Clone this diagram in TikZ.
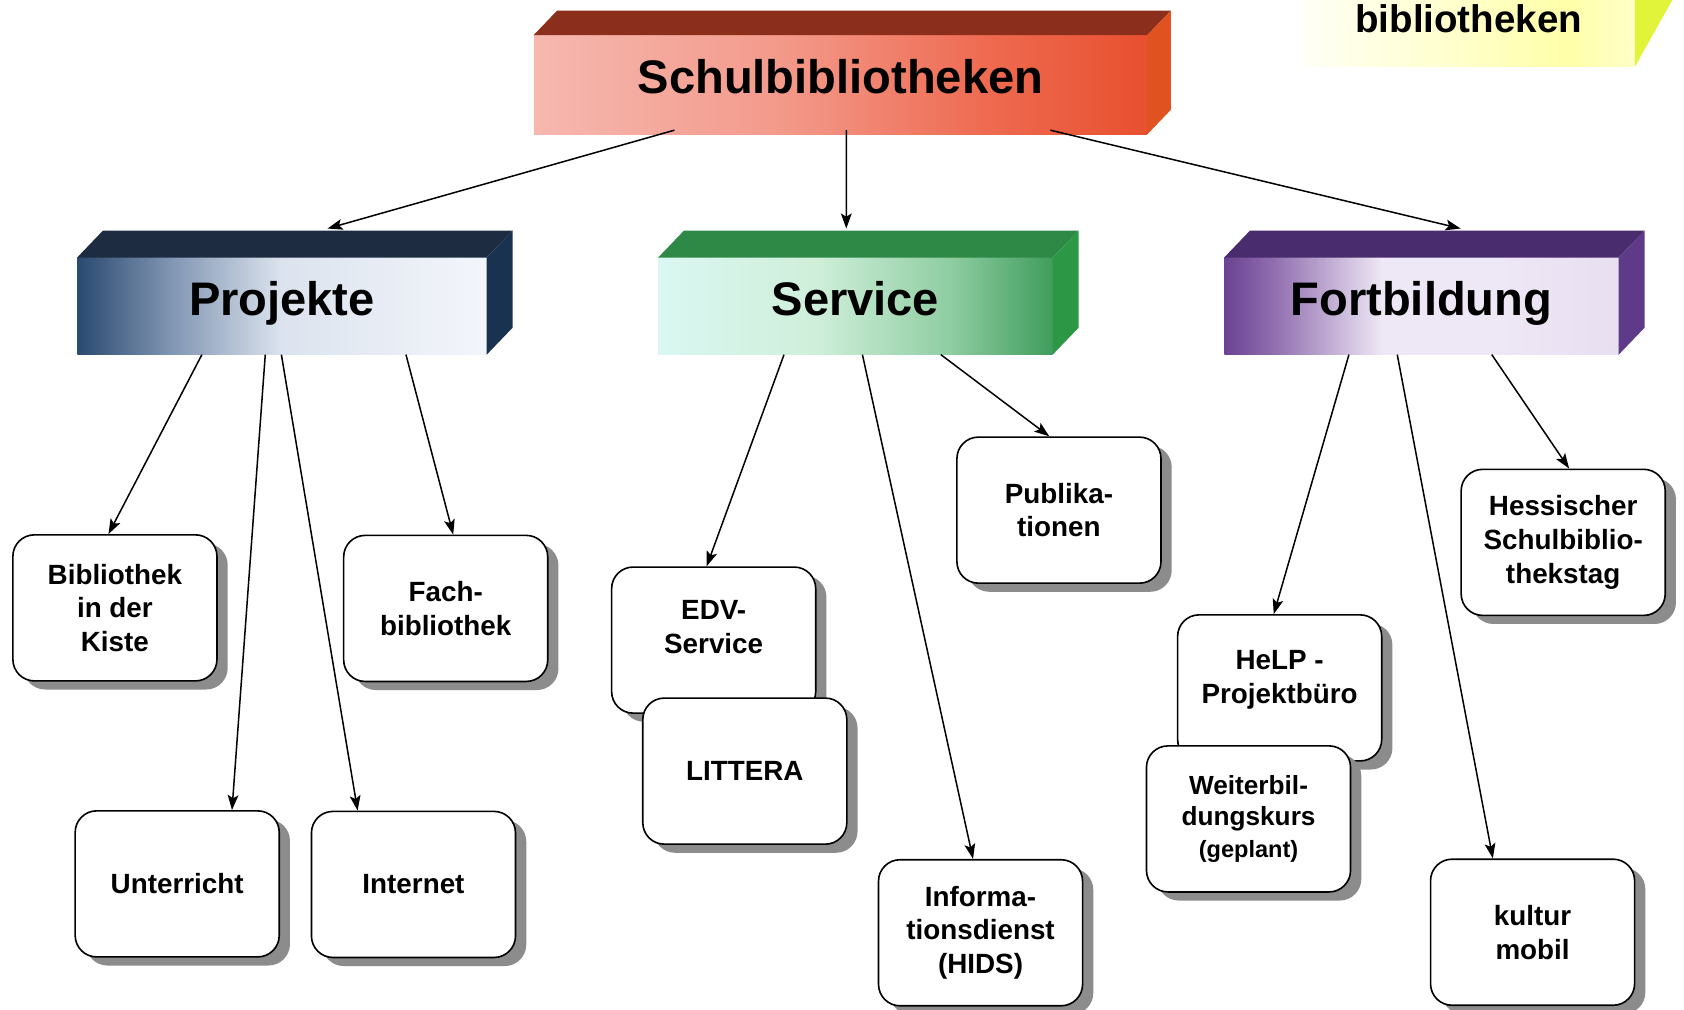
\documentclass[tikz,border=0pt]{standalone}
\usepackage{fontspec}
\setmainfont{Liberation Sans}
\usetikzlibrary{arrows.meta,shadows,calc}

\definecolor{topA}{HTML}{F6B8AF}
\definecolor{topB}{HTML}{F39A8B}
\definecolor{topC}{HTML}{EE6A50}
\definecolor{topD}{HTML}{E8502F}
\definecolor{topTop}{HTML}{8C2E1C}
\definecolor{topSide}{HTML}{E0521F}
\definecolor{projA}{HTML}{2A4A70}
\definecolor{projB}{HTML}{8499B5}
\definecolor{projC}{HTML}{DCE3EE}
\definecolor{projD}{HTML}{F3F6FB}
\definecolor{projTop}{HTML}{1D2C40}
\definecolor{projSide}{HTML}{18324F}
\definecolor{servA}{HTML}{DAF7F2}
\definecolor{servB}{HTML}{CFEFDA}
\definecolor{servC}{HTML}{8FCDA2}
\definecolor{servD}{HTML}{3F9D5D}
\definecolor{servTop}{HTML}{2E8946}
\definecolor{servSide}{HTML}{2C9745}
\definecolor{fortA}{HTML}{6A4391}
\definecolor{fortB}{HTML}{8F6CAE}
\definecolor{fortC}{HTML}{EEE7F5}
\definecolor{fortD}{HTML}{E8DFF1}
\definecolor{fortTop}{HTML}{482C6E}
\definecolor{fortSide}{HTML}{5D3B89}
\definecolor{yelA}{HTML}{FFFFF6}
\definecolor{yelB}{HTML}{FFFFC8}
\definecolor{yelC}{HTML}{FFFFA8}
\definecolor{yelSide}{HTML}{E2F43A}
\definecolor{shadowgray}{HTML}{8C8C8C}

\pgfdeclarehorizontalshading{topshade}{100bp}{color(0bp)=(topA); color(25bp)=(topA); color(45bp)=(topB); color(62bp)=(topC); color(75bp)=(topD); color(100bp)=(topD)}
\pgfdeclarehorizontalshading{projshade}{100bp}{color(0bp)=(projA); color(25bp)=(projA); color(37bp)=(projB); color(50bp)=(projC); color(75bp)=(projD); color(100bp)=(projD)}
\pgfdeclarehorizontalshading{servshade}{100bp}{color(0bp)=(servA); color(25bp)=(servA); color(45bp)=(servB); color(62bp)=(servC); color(75bp)=(servD); color(100bp)=(servD)}
\pgfdeclarehorizontalshading{fortshade}{100bp}{color(0bp)=(fortA); color(25bp)=(fortA); color(31bp)=(fortB); color(45bp)=(fortC); color(60bp)=(fortC); color(75bp)=(fortD); color(100bp)=(fortD)}
\pgfdeclarehorizontalshading{yelshade}{100bp}{color(0bp)=(yelA); color(25bp)=(yelA); color(50bp)=(yelB); color(65bp)=(yelC); color(75bp)=(yelB); color(100bp)=(yelB)}

\newcommand\threedfaces[5]{%
  \fill[#4] (#1.north west) -- ++(#2,#3) -- ($(#1.north east)+(#2,#3)$) -- (#1.north east) -- cycle;
  \fill[#5] (#1.north east) -- ++(#2,#3) -- ($(#1.south east)+(#2,#3)$) -- (#1.south east) -- cycle;}

\tikzset{
  front/.style={inner sep=0pt, shade, text height=32bp, text depth=15bp,
    font=\fontsize{44}{50}\selectfont\bfseries},
  leaf/.style={draw=black, line width=1.5bp, fill=white, rounded corners=20bp,
    minimum width=190bp, minimum height=136bp, align=center, inner sep=2bp,
    font=\fontsize{26}{31.5}\selectfont\bfseries,
    drop shadow={shadow xshift=10bp, shadow yshift=-8bp, fill=shadowgray, opacity=1}},
  link/.style={line width=1.4bp, -{Stealth[length=14bp,width=10bp,inset=3bp]}},
}

\begin{document}
\begin{tikzpicture}[x=1bp,y=-1bp]
\useasboundingbox (0,0) rectangle (1568,940);
\clip (0,0) rectangle (1568,940);
\fill[white] (0,0) rectangle (1568,940);

% partial yellow box at top right
\node[inner sep=0pt, shade, shading=yelshade, minimum width=309bp, minimum height=90bp,
  font=\fontsize{36}{40}\selectfont\bfseries] (yel) at (1367.5,17) {bibliotheken};
\fill[yelSide] (yel.south east) -- ++(36bp,64bp) -- ([yshift=64bp]yel.south east) -- cycle;

% header boxes
\node[front, shading=topshade, minimum width=571bp, minimum height=92bp] (top) at (782.5,79) {Schulbibliotheken};
\threedfaces{top}{22bp}{23bp}{topTop}{topSide}
\node[front, shading=projshade, minimum width=381bp, minimum height=90bp] (proj) at (262.5,285) {Projekte};
\threedfaces{proj}{24bp}{25bp}{projTop}{projSide}
\node[front, shading=servshade, minimum width=367bp, minimum height=90bp] (serv) at (796.5,285) {Service};
\threedfaces{serv}{24bp}{25bp}{servTop}{servSide}
\node[front, shading=fortshade, minimum width=367bp, minimum height=90bp] (fort) at (1323.5,285) {Fortbildung};
\threedfaces{fort}{24bp}{25bp}{fortTop}{fortSide}

% leaves
\node[leaf] (kiste) at (107,566) {Bibliothek\\in der\\Kiste};
\node[leaf] (fach) at (415,566.5) {Fach-\\bibliothek};
\node[leaf] (unter) at (165,823) {Unterricht};
\node[leaf] (inet) at (385,823.5) {Internet};
\node[leaf] (edv) at (664.5,596) {EDV-\\Service\\[-7.5bp]\mbox{}};
\node[leaf] (litt) at (693.5,718) {LITTERA};
\node[leaf] (publ) at (986,475) {Publika-\\tionen};
\node[leaf] (info) at (913,868.5) {Informa-\\tionsdienst\\(HIDS)};
\node[leaf] (help) at (1191.5,640.5) {HeLP -\\Projektbüro\\[-11.5bp]\mbox{}};
\node[leaf, font=\fontsize{24.5}{29.5}\selectfont\bfseries] (weit) at (1162.5,762.5) {Weiterbil-\\dungskurs\\{\fontsize{22}{29.5}\selectfont(geplant)}};
\node[leaf] (hess) at (1455.5,505) {Hessischer\\Schulbiblio-\\thekstag};
\node[leaf] (kultur) at (1427,868) {kultur\\mobil};

% connectors from top
\draw[link] ([xshift=-154.5bp,yshift=4bp]top.south) -- ([xshift=42.5bp,yshift=27bp]proj.north);
\draw[link] ([xshift=5.5bp,yshift=4bp]top.south) -- ([xshift=-8.5bp,yshift=27bp]serv.north);
\draw[link] ([xshift=195.5bp,yshift=4bp]top.south) -- ([xshift=36.5bp,yshift=27bp]fort.north);

% Projekte
\draw[link] ([xshift=-74.5bp]proj.south) -- ([xshift=-6bp]kiste.north);
\draw[link] ([xshift=-15.5bp]proj.south) -- ([xshift=51bp]unter.north);
\draw[link] ([xshift=-0.5bp]proj.south) -- ([xshift=-52bp]inet.north);
\draw[link] ([xshift=115.5bp]proj.south) -- ([xshift=7bp]fach.north);

% Service
\draw[link] ([xshift=-66.5bp]serv.south) -- ([xshift=-6.5bp]edv.north);
\draw[link] ([xshift=6.5bp]serv.south) -- ([xshift=-7bp]info.north);
\draw[link] ([xshift=79.5bp]serv.south) -- ([xshift=-9bp]publ.north);

% Fortbildung
\draw[link] ([xshift=-67.5bp]fort.south) -- ([xshift=-5.5bp]help.north);
\draw[link] ([xshift=-22.5bp]fort.south) -- ([xshift=-37bp]kultur.north);
\draw[link] ([xshift=65.5bp]fort.south) -- ([xshift=5.5bp]hess.north);
\end{tikzpicture}
\end{document}
